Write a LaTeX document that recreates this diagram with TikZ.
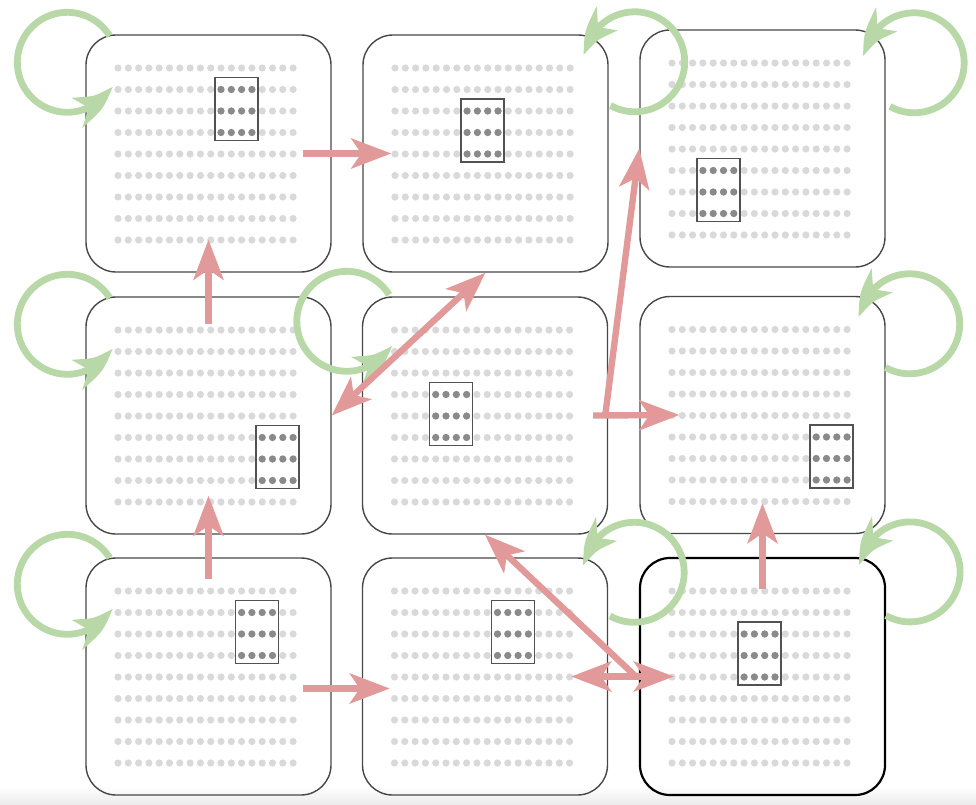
\documentclass[tikz,border=0pt]{standalone}
\usetikzlibrary{arrows.meta,bending,calc}

\definecolor{hopred}{RGB}{226,153,153}
\definecolor{staygreen}{RGB}{184,216,167}
\definecolor{dotlight}{RGB}{217,217,217}
\definecolor{dotdark}{RGB}{138,138,138}

\begin{document}
\begin{tikzpicture}[
  x=0.25mm,y=-0.25mm,
  cell/.style={rounded corners=7.5mm,minimum width=61.25mm,minimum height=59.25mm,inner sep=0pt},
  pin/.style={fill=dotlight},
  pinon/.style={fill=dotdark},
  block/.style={draw=black!68,line width=0.38mm},
  hop/.style={-{Stealth[length=10mm,width=7.5mm,inset=2.5mm]},draw=hopred,line width=1.6mm},
  hopboth/.style={{Stealth[length=10mm,width=7.5mm,inset=2.5mm]}-{Stealth[length=10mm,width=7.5mm,inset=2.5mm]},draw=hopred,line width=1.6mm},
  stay/.style={-{Stealth[length=11mm,width=7.8mm,inset=3mm,bend]},draw=staygreen,line width=1.7mm}
]
\useasboundingbox (0,0) rectangle (976,805);
\fill[top color=white,bottom color=black!8] (0,786) rectangle (976,805);

% boards: name / centre / first dark column / first dark row / border
\foreach \n/\x/\y/\c/\r/\s/\w in {
    b11/208.5/153.5/10/1/black!72/0.35mm, b12/485.5/153.5/7/2/black!72/0.35mm, b13/762.5/148.5/3/5/black!72/0.35mm,
    b21/208.5/415.5/14/5/black!72/0.35mm, b22/485/415.5/4/3/black!72/0.35mm,   b23/762.5/415/14/5/black!72/0.35mm,
    b31/208.5/676.5/12/1/black!72/0.35mm, b32/485/676.5/10/1/black!72/0.35mm,  b33/762.5/676.5/7/2/black/0.55mm}{
  \node[cell,draw=\s,line width=\w] (\n) at (\x,\y) {};
  \foreach \i in {0,...,17}
    \foreach \j in {0,...,8}
      \fill[pin] ({\x-90.5+\i*10.3},{\y-85.5+\j*21.5}) circle[radius=3.6];
  \foreach \i in {0,...,3}
    \foreach \j in {0,1,2}
      \fill[pinon] ({\x-90.5+(\c+\i)*10.3},{\y-85.5+(\r+\j)*21.5}) circle[radius=3.6];
  \draw[block] ({\x-90.5+(\c+1.5)*10.3-21.5},{\y-85.5+(\r+1)*21.5-33.5}) rectangle ++(43,63);
}

% self loops
\draw[stay] ($(b11.north west)+(-18,28)$) ++(328:50) arc[start angle=328,end angle=28,radius=50];
\draw[stay] ($(b21.north west)+(-18,28)$) ++(328:50) arc[start angle=328,end angle=28,radius=50];
\draw[stay] ($(b31.north west)+(-18,27)$) ++(328:50) arc[start angle=328,end angle=28,radius=50];
\draw[stay] ($(b22.north west)+(-15,25)$) ++(328:50) arc[start angle=328,end angle=28,radius=50];
\draw[stay] ($(b12.north east)+(26,27.5)$) ++(119:50) arc[start angle=119,end angle=-173,radius=50];
\draw[stay] ($(b13.north east)+(28.5,33.5)$) ++(119:50) arc[start angle=119,end angle=-173,radius=50];
\draw[stay] ($(b23.north east)+(24,28)$) ++(119:50) arc[start angle=119,end angle=-173,radius=50];
\draw[stay] ($(b32.north east)+(26,15)$) ++(119:50) arc[start angle=119,end angle=-173,radius=50];
\draw[stay] ($(b33.north east)+(24,15)$) ++(119:50) arc[start angle=119,end angle=-173,radius=50];

% moves
\draw[hop] ($(b11.east)+(-29,0)$) -- ($(b12.west)+(29,0)$);
\draw[hop] ($(b21.north)+(0,28)$) -- ($(b11.south)+(0,-33)$);
\draw[hop] ($(b31.north)+(0,22)$) -- ($(b21.south)+(0,-39)$);
\draw[hop] ($(b31.east)+(-29,12)$) -- ($(b32.west)+(28,12)$);
\draw[hopboth] (b21.east) -- (b12.south);
\draw[hop] ($(b22.east)+(-3,0)$) -- (b13.west);
\draw[hop] ($(b22.east)+(-15,0)$) -- ($(b23.west)+(40,0)$);
\draw[hop] ($(b33.north)+(0,32)$) -- ($(b23.south)+(0,-31)$);
\draw[hopboth] ($(b32.east)+(-37,0)$) -- ($(b33.west)+(35,0)$);
\draw[hop] ($(b33.west)+(-3,0)$) -- (b22.south);
\end{tikzpicture}
\end{document}
